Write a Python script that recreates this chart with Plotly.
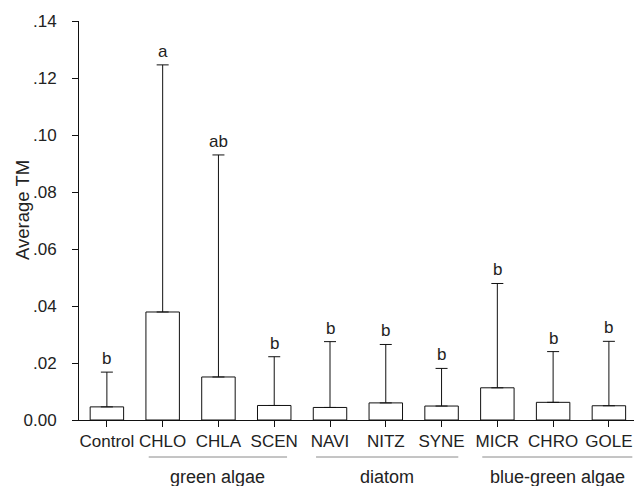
import plotly.graph_objects as go

categories = ["Control", "CHLO", "CHLA", "SCEN", "NAVI", "NITZ", "SYNE", "MICR", "CHRO", "GOLE"]
means = [0.0046, 0.0379, 0.0151, 0.0051, 0.0044, 0.0060, 0.0049, 0.0113, 0.0062, 0.0050]
upper = [0.0168, 0.1246, 0.0930, 0.0222, 0.0275, 0.0265, 0.0181, 0.0479, 0.0240, 0.0276]
letters = ["b", "a", "ab", "b", "b", "b", "b", "b", "b", "b"]
groups = ["green algae", "diatom", "blue-green algae"]
group_spans = [(0.75, 3.23), (3.75, 6.3), (6.73, 9.42)]
ytick_vals = [0.0, 0.02, 0.04, 0.06, 0.08, 0.10, 0.12, 0.14]
ytick_text = ["0.00", ".02", ".04", ".06", ".08", ".10", ".12", ".14"]

FONT = "Liberation Sans, Arial, sans-serif"
TXT = "#222222"
xidx = list(range(len(categories)))

W, H = 634, 486
L, R, T = 79, 0, 21
B = H - 420
PW, PH = W - L - R, H - T - B
bottom_px = H - B

fig = go.Figure()
fig.add_trace(go.Bar(
    x=xidx, y=means, width=0.6,
    marker=dict(color="white", line=dict(color="#111111", width=1)),
    error_y=dict(type="data", symmetric=False,
                 array=[u - m for u, m in zip(upper, means)],
                 arrayminus=[0] * len(means),
                 color="#111111", thickness=1, width=6),
    showlegend=False, hoverinfo="skip",
))

annotations = []
for i, (u, lab) in enumerate(zip(upper, letters)):
    annotations.append(dict(x=i, y=u, xref="x", yref="y", text=lab, showarrow=False,
                            yanchor="bottom", yshift=2, font=dict(family=FONT, size=17, color=TXT)))

shapes = []
line_y = -(457 - bottom_px) / PH
label_y = -(477 - bottom_px) / PH
for (a, b), g in zip(group_spans, groups):
    shapes.append(dict(type="line", xref="x", yref="paper", x0=a, x1=b, y0=line_y, y1=line_y,
                       line=dict(color="#8a8a8a", width=1)))
    annotations.append(dict(x=(a + b) / 2, y=label_y, xref="x", yref="paper", text=g,
                            showarrow=False, yanchor="middle",
                            font=dict(family=FONT, size=18, color=TXT)))

annotations.append(dict(x=-(L - 22) / PW, y=(bottom_px - 210) / PH, xref="paper", yref="paper",
                        text="Average TM", textangle=-90, showarrow=False,
                        xanchor="center", yanchor="middle",
                        font=dict(family=FONT, size=18.5, color=TXT)))

fig.update_layout(
    width=W, height=H,
    margin=dict(l=L, r=R, t=T, b=B, autoexpand=False),
    paper_bgcolor="white", plot_bgcolor="white",
    font=dict(family=FONT, size=17, color=TXT),
    annotations=annotations, shapes=shapes,
    xaxis=dict(range=[-0.5, 9.45], tickvals=xidx, ticktext=categories, automargin=False,
               showline=True, linecolor="#111111", linewidth=1,
               ticks="outside", ticklen=6, tickcolor="#111111", showgrid=False, zeroline=False,
               tickfont=dict(family=FONT, size=17, color=TXT)),
    yaxis=dict(range=[0, 0.14], tickvals=ytick_vals, ticktext=ytick_text, automargin=False,
               showline=True, linecolor="#111111", linewidth=1, ticklabelstandoff=12,
               ticks="outside", ticklen=6, tickcolor="#111111", showgrid=False, zeroline=False,
               tickfont=dict(family=FONT, size=17, color=TXT)),
    bargap=0.4,
)

fig.write_html("out.html", config={"displayModeBar": False},
               post_script="document.body.style.margin='0';document.body.style.overflow='hidden';")
